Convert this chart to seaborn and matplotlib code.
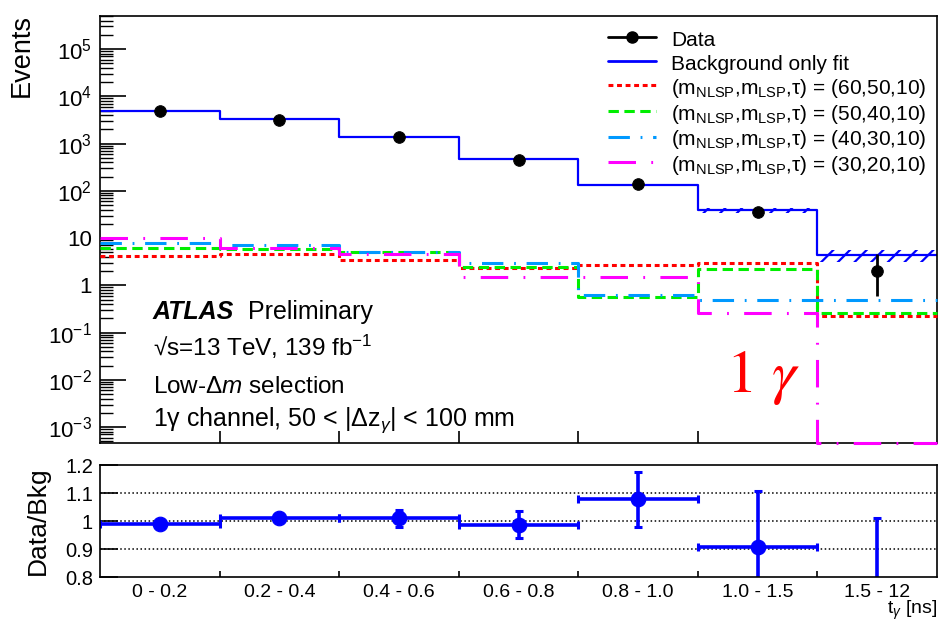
import numpy as np
import matplotlib.pyplot as plt
import seaborn as sns
from matplotlib.lines import Line2D
from matplotlib.ticker import FixedLocator, FixedFormatter, LogLocator, NullFormatter

# Bins in t_gamma [ns]
bin_labels = ['0 - 0.2', '0.2 - 0.4', '0.4 - 0.6', '0.6 - 0.8', '0.8 - 1.0', '1.0 - 1.5', '1.5 - 12']

# Events per bin
data_events = [4800, 3100, 1380, 455, 140, 35, 2.0]
data_err_low = [0, 0, 0, 0, 0, 0, 1.4]
data_err_high = [0, 0, 0, 0, 0, 0, 2.6]
bkg_fit = [5000, 3250, 1400, 475, 134, 39, 4.4]
bkg_unc = [30, 35, 25, 12, 6, 5, 1.3]
sig_60_50 = [4.1, 4.5, 3.5, 2.3, 2.65, 2.9, 0.22]
sig_50_40 = [6.1, 5.8, 5.0, 2.5, 0.56, 2.2, 0.26]
sig_40_30 = [7.7, 7.0, 5.0, 2.9, 0.61, 0.50, 0.48]
sig_30_20 = [9.8, 6.3, 4.5, 1.5, 1.5, 0.26, 0.0]

# Ratio panel
ratio = [0.99, 1.01, 1.01, 0.985, 1.078, 0.907, 0.45]
ratio_err_low = [0.004, 0.012, 0.03, 0.045, 0.1, 0.2, 0.4]
ratio_err_high = [0.004, 0.012, 0.03, 0.05, 0.097, 0.2, 0.56]

sns.set_theme(style="ticks")
plt.rcParams['font.family'] = ['Liberation Sans', 'DejaVu Sans']
plt.rcParams['mathtext.fontset'] = 'custom'
plt.rcParams['mathtext.rm'] = 'Liberation Sans'
plt.rcParams['mathtext.it'] = 'Liberation Sans:italic'
plt.rcParams['mathtext.bf'] = 'Liberation Sans:bold'
plt.rcParams['xtick.direction'] = 'in'
plt.rcParams['ytick.direction'] = 'in'
plt.rcParams['xtick.color'] = 'black'
plt.rcParams['ytick.color'] = 'black'
plt.rcParams['axes.edgecolor'] = 'black'
plt.rcParams['text.color'] = 'black'
plt.rcParams['axes.labelcolor'] = 'black'
plt.rcParams['hatch.linewidth'] = 1.6
plt.rcParams['axes.linewidth'] = 1.2

fig = plt.figure(figsize=(9.41, 6.23), dpi=100)
ax = fig.add_axes([0.1063, 0.2889, 0.8895, 0.6854])
ax_r = fig.add_axes([0.1063, 0.0738, 0.8895, 0.1798])

y_min, y_max = 4.6e-4, 5e5
edges = np.arange(len(bin_labels) + 1)
centers = edges[:-1] + 0.5


def steps(vals):
    vals = np.clip(np.asarray(vals, dtype=float), y_min, None)
    return np.append(vals, vals[-1])


# Signal histograms
sig_styles = [
    (sig_60_50, '#ff0000', (0, (1.6, 1.2)), '(60,50,10)'),
    (sig_50_40, '#00ee00', (0, (3.4, 1.8)), '(50,40,10)'),
    (sig_40_30, '#0099ff', (0, (7, 3.5, 0.6, 3.5)), '(40,30,10)'),
    (sig_30_20, '#ff00ff', (0, (9, 5, 0.6, 5)), '(30,20,10)'),
]
for vals, col, ls, _ in sig_styles:
    sns.lineplot(x=edges, y=steps(vals), drawstyle='steps-post', color=col,
                 linestyle=ls, linewidth=2.2, ax=ax, sort=False,
                 clip_on=False, zorder=3)

# Background fit with hatched uncertainty
bkg = np.array(bkg_fit)
unc = np.array(bkg_unc)
ax.fill_between(edges, steps(bkg - unc), steps(bkg + unc), step='post',
                facecolor='none', edgecolor='blue', hatch='//', linewidth=0)
sns.lineplot(x=edges, y=steps(bkg_fit), drawstyle='steps-post', color='blue',
             linewidth=1.6, ax=ax, sort=False)

# Data points
ax.errorbar(centers, data_events, yerr=[data_err_low, data_err_high], fmt='none',
            ecolor='black', elinewidth=2, capsize=0)
sns.scatterplot(x=centers, y=data_events, color='black', s=70, edgecolor='black',
                ax=ax, zorder=5)

ax.set_yscale('log')
ax.set_xlim(0, 7)
ax.set_ylim(y_min, y_max)
major = [1e-3, 1e-2, 1e-1, 1, 10, 1e2, 1e3, 1e4, 1e5]
major_lbl = [r'$10^{-3}$', r'$10^{-2}$', r'$10^{-1}$', '1', '10',
             r'$10^{2}$', r'$10^{3}$', r'$10^{4}$', r'$10^{5}$']
ax.yaxis.set_major_locator(FixedLocator(major))
ax.yaxis.set_major_formatter(FixedFormatter(major_lbl))
ax.yaxis.set_minor_locator(LogLocator(base=10, subs=np.arange(2, 10), numticks=30))
ax.yaxis.set_minor_formatter(NullFormatter())
ax.set_xticks(edges[1:-1])
ax.tick_params(axis='x', labelbottom=False, length=9, width=1.2)
ax.tick_params(axis='y', which='major', length=19, width=1.2, labelsize=16, pad=6)
ax.tick_params(axis='y', which='minor', length=9, width=1.0)
ax.set_xlabel('')
ax.set_ylabel('Events', fontsize=19.5, loc='top')
ax.yaxis.set_label_coords(-0.078, 1.005)

# Legend
handles = [
    Line2D([], [], color='black', marker='o', markersize=8, linewidth=2),
    Line2D([], [], color='blue', linewidth=2),
]
labels = ['Data', 'Background only fit']
for vals, col, ls, tag in sig_styles:
    handles.append(Line2D([], [], color=col, linestyle=ls, linewidth=2.2))
    labels.append(r'(m$_{\mathrm{NLSP}}$,m$_{\mathrm{LSP}}$,τ) = ' + tag)
ax.legend(handles, labels, loc='upper right', bbox_to_anchor=(0.997, 0.99),
          frameon=False, fontsize=15, handlelength=2.3, handletextpad=0.7,
          handleheight=1.2, labelspacing=0.1, borderaxespad=0)

# Labels in the plot
ax.text(0.0633, 0.290, 'ATLAS', transform=ax.transAxes, fontsize=18,
        fontweight='bold', style='italic')
ax.text(0.1768, 0.290, 'Preliminary', transform=ax.transAxes, fontsize=18)
ax.text(0.0633, 0.204, r'√s=13 TeV, 139 fb$^{-1}$', transform=ax.transAxes, fontsize=17.5)
ax.text(0.0633, 0.117, r'Low-Δ$m$ selection', transform=ax.transAxes, fontsize=17.5)
ax.text(0.0633, 0.040, r'1γ channel, 50 < |Δz$_{\gamma}$| < 100 mm',
        transform=ax.transAxes, fontsize=18)
ax.text(0.792, 0.119, r'1 $\gamma$', transform=ax.transAxes, fontsize=44,
        color='red', family='STIXGeneral', math_fontfamily='stix', ha='center')

# Ratio panel
for yv in [0.9, 1.0, 1.1]:
    ax_r.axhline(yv, color='black', linestyle=':', linewidth=1.1, zorder=0)
ax_r.errorbar(centers, ratio, xerr=0.5, yerr=[ratio_err_low, ratio_err_high],
              fmt='none', ecolor='blue', elinewidth=2.6, capsize=3, capthick=2.2)
sns.scatterplot(x=centers, y=ratio, color='blue', s=110, edgecolor='blue',
                ax=ax_r, zorder=5)
ax_r.set_xlim(0, 7)
ax_r.set_ylim(0.8, 1.2)
ax_r.set_yticks([0.8, 0.9, 1.0, 1.1, 1.2], labels=['0.8', '0.9', '1', '1.1', '1.2'])
ax_r.set_xticks(edges[1:-1], labels=[''] * 6)
ax_r.set_xticks(centers, labels=bin_labels, minor=True)
ax_r.tick_params(axis='x', which='major', length=4, width=1.2)
ax_r.tick_params(axis='x', which='minor', length=0, labelsize=14, pad=5)
ax_r.tick_params(axis='y', which='major', length=13, width=1.2, labelsize=14.5, pad=5)
ax_r.set_ylabel('Data/Bkg', fontsize=19)
ax_r.yaxis.set_label_coords(-0.06, 0.5)
ax_r.set_xlabel(r't$_{\gamma}$ [ns]', fontsize=14, loc='right')
ax_r.xaxis.set_label_coords(1.0, -0.195)

fig.savefig('out.png', dpi=100)
